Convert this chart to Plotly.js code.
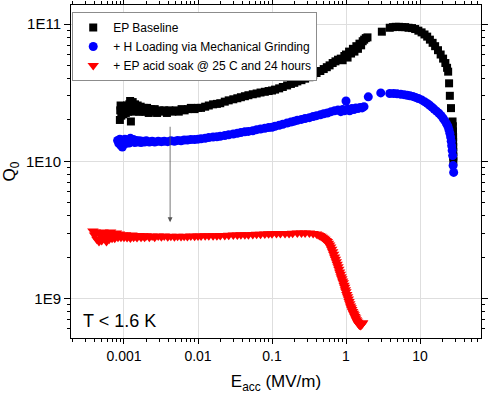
<!DOCTYPE html>
<html>
<head>
<meta charset="utf-8">
<script src="https://cdn.plot.ly/plotly-3.0.1.min.js"></script>
<style>html,body{margin:0;padding:0;background:#fff;}#chart{width:490px;height:395px;}</style>
</head>
<body>
<div id="chart"></div>
<script>
// ---- Data ----
const seriesNames = ["EP Baseline", "+ H Loading via Mechanical Grinding", "+ EP acid soak @ 25 C and 24 hours"];

const baselineE = [0.00088,0.00089,0.00090,0.00092,0.00095,0.00098,0.00102,0.00106,0.00110,0.00114,0.00118,0.00121,0.00124,0.00127,0.00131,0.00136,0.00141,0.00147,0.00153,0.0016,0.00168,0.00176,0.00185,0.00195,0.00205,0.00216,0.0023,0.00245,0.0026,0.0028,0.003,0.0032,0.0035,0.0038,0.0041,0.0045,0.005,0.0055,0.006,0.0066,0.0073,0.008,0.009,0.01,0.011,0.0125,0.014,0.016,0.018,0.02,0.023,0.026,0.03,0.034,0.038,0.043,0.048,0.055,0.062,0.07,0.08,0.09,0.1,0.11,0.125,0.14,0.16,0.18,0.2,0.22,0.25,0.28,0.32,0.36,0.4,0.45,0.5,0.55,0.6,0.66,0.72,0.78,0.85,0.9,0.95,1.0,1.05,1.1,1.17,1.24,1.3,1.38,1.45,1.52,1.6,1.68,1.76,1.85,1.95,3.05,3.9,4.3,4.7,5.2,5.7,6.3,7.0,7.8,8.6,9.5,10.5,11.5,12.5,13.6,14.8,16.0,17.5,19.0,20.5,22.0,23.2,24.0,24.7,25.3,26.2,27.5,27.8,27.9,28.0,28.0,28.1,28.1,28.2,28.2];
const baselineQ = [2.0e10,2.35e10,2.55e10,2.15e10,2.45e10,2.2e10,2.5e10,2.25e10,2.55e10,2.3e10,2.6e10,2.75e10,1.95e10,2.45e10,2.7e10,2.3e10,2.6e10,2.35e10,2.55e10,2.3e10,2.5e10,2.3e10,2.45e10,2.3e10,2.45e10,2.25e10,2.4e10,2.3e10,2.4e10,2.25e10,2.35e10,2.3e10,2.35e10,2.25e10,2.35e10,2.3e10,2.35e10,2.3e10,2.4e10,2.35e10,2.4e10,2.45e10,2.4e10,2.45e10,2.45e10,2.5e10,2.55e10,2.6e10,2.62e10,2.65e10,2.72e10,2.78e10,2.83e10,2.88e10,2.93e10,2.98e10,3.03e10,3.08e10,3.12e10,3.17e10,3.21e10,3.25e10,3.28e10,3.33e10,3.4e10,3.48e10,3.57e10,3.66e10,3.73e10,3.82e10,3.9e10,4.0e10,4.1e10,4.25e10,4.4e10,4.55e10,4.7e10,4.85e10,5.0e10,5.2e10,5.35e10,5.5e10,5.6e10,5.45e10,5.85e10,6.0e10,5.7e10,6.3e10,6.1e10,6.6e10,6.3e10,6.9e10,6.6e10,7.2e10,7.0e10,7.5e10,7.7e10,7.9e10,8.0e10,8.8e10,9.4e10,9.5e10,9.55e10,9.55e10,9.5e10,9.5e10,9.4e10,9.35e10,9.2e10,8.95e10,8.7e10,8.4e10,8.1e10,7.7e10,7.3e10,6.9e10,6.45e10,6.0e10,5.6e10,5.2e10,4.8e10,4.5e10,3.7e10,3.0e10,2.44e10,1.95e10,1.8e10,1.65e10,1.5e10,1.38e10,1.27e10,1.17e10,1.08e10,1.0e10];

const hLoadE = [0.00082,0.00085,0.00088,0.00091,0.00095,0.00099,0.00103,0.00107,0.00112,0.00117,0.00122,0.00128,0.00134,0.0014,0.00147,0.00155,0.00163,0.0017,0.0018,0.0019,0.002,0.0022,0.0024,0.0026,0.0029,0.0032,0.0035,0.0039,0.0043,0.0048,0.0053,0.0059,0.0065,0.0072,0.008,0.009,0.01,0.011,0.0125,0.014,0.016,0.018,0.02,0.023,0.026,0.03,0.034,0.038,0.043,0.048,0.055,0.062,0.07,0.08,0.09,0.1,0.11,0.125,0.14,0.16,0.18,0.2,0.22,0.25,0.28,0.32,0.36,0.4,0.45,0.5,0.56,0.63,0.7,0.78,0.85,0.9,0.95,1.0,1.05,1.12,1.2,1.28,1.36,1.45,1.55,1.65,1.75,2.0,2.95,3.9,4.4,4.9,5.5,6.1,6.7,7.3,8.0,8.7,9.5,10.5,11.5,12.5,13.5,14.5,15.5,16.7,18.0,19.3,20.5,21.7,22.8,23.8,24.6,25.3,25.9,26.4,26.8,27.2,27.6,28.0,28.5];
const hLoadQ = [1.42e10,1.35e10,1.45e10,1.3e10,1.27e10,1.38e10,1.45e10,1.35e10,1.42e10,1.36e10,1.47e10,1.4e10,1.44e10,1.37e10,1.42e10,1.38e10,1.41e10,1.37e10,1.4e10,1.38e10,1.41e10,1.38e10,1.4e10,1.38e10,1.4e10,1.39e10,1.4e10,1.39e10,1.41e10,1.4e10,1.42e10,1.41e10,1.43e10,1.43e10,1.44e10,1.44e10,1.45e10,1.46e10,1.47e10,1.49e10,1.5e10,1.51e10,1.52e10,1.54e10,1.56e10,1.58e10,1.6e10,1.62e10,1.64e10,1.65e10,1.67e10,1.7e10,1.72e10,1.74e10,1.76e10,1.77e10,1.8e10,1.83e10,1.86e10,1.9e10,1.93e10,1.96e10,1.99e10,2.02e10,2.05e10,2.08e10,2.12e10,2.15e10,2.18e10,2.22e10,2.25e10,2.3e10,2.33e10,2.36e10,2.3e10,2.38e10,2.33e10,2.75e10,2.4e10,2.33e10,2.42e10,2.38e10,2.45e10,2.42e10,2.47e10,2.45e10,2.5e10,2.95e10,3.15e10,3.12e10,3.12e10,3.1e10,3.08e10,3.06e10,3.03e10,3.0e10,2.97e10,2.92e10,2.87e10,2.8e10,2.72e10,2.64e10,2.56e10,2.48e10,2.4e10,2.32e10,2.24e10,2.15e10,2.06e10,1.97e10,1.88e10,1.8e10,1.7e10,1.6e10,1.5e10,1.4e10,1.3e10,1.2e10,1.1e10,0.93e10,0.83e10];

const soakE = [0.00038,0.0004,0.00041,0.00043,0.00045,0.00046,0.00048,0.0005,0.00052,0.00054,0.00056,0.00058,0.0006,0.00063,0.00066,0.00069,0.00072,0.00075,0.00079,0.00083,0.00087,0.00091,0.00095,0.001,0.00105,0.0011,0.00116,0.00122,0.00128,0.00135,0.00142,0.0015,0.0016,0.0017,0.0018,0.0019,0.002,0.0022,0.0024,0.0026,0.0029,0.0032,0.0035,0.0039,0.0043,0.0048,0.0053,0.0059,0.0065,0.0072,0.008,0.009,0.01,0.011,0.0125,0.014,0.016,0.018,0.02,0.023,0.026,0.03,0.034,0.038,0.043,0.048,0.055,0.062,0.07,0.08,0.09,0.1,0.115,0.13,0.15,0.17,0.19,0.22,0.25,0.28,0.32,0.36,0.4,0.42,0.44,0.46,0.48,0.5,0.52,0.54,0.56,0.58,0.6,0.62,0.64,0.66,0.68,0.7,0.72,0.74,0.76,0.78,0.8,0.82,0.84,0.86,0.88,0.9,0.92,0.94,0.96,0.98,1.0,1.025,1.05,1.075,1.1,1.125,1.15,1.175,1.2,1.23,1.26,1.29,1.32,1.35,1.38,1.41,1.44,1.47,1.5,1.53,1.56,1.59,1.62,1.65,1.68];
const soakQ = [3.1e9,2.9e9,3.05e9,2.7e9,3.0e9,2.6e9,2.95e9,2.65e9,3.05e9,2.75e9,3.0e9,2.6e9,2.9e9,2.7e9,3.05e9,2.75e9,2.95e9,2.75e9,3.0e9,2.8e9,2.95e9,2.8e9,2.9e9,2.8e9,2.92e9,2.78e9,2.88e9,2.76e9,2.9e9,2.8e9,2.86e9,2.78e9,2.88e9,2.8e9,2.86e9,2.8e9,2.86e9,2.8e9,2.85e9,2.8e9,2.85e9,2.82e9,2.85e9,2.82e9,2.84e9,2.82e9,2.84e9,2.83e9,2.84e9,2.83e9,2.85e9,2.84e9,2.85e9,2.85e9,2.86e9,2.86e9,2.87e9,2.87e9,2.88e9,2.88e9,2.89e9,2.9e9,2.9e9,2.91e9,2.92e9,2.92e9,2.93e9,2.94e9,2.94e9,2.95e9,2.96e9,2.96e9,2.97e9,2.97e9,2.98e9,2.98e9,2.99e9,3.0e9,3.0e9,3.0e9,3.0e9,2.98e9,2.95e9,2.92e9,2.88e9,2.84e9,2.8e9,2.75e9,2.7e9,2.65e9,2.6e9,2.53e9,2.45e9,2.37e9,2.28e9,2.19e9,2.1e9,2.01e9,1.93e9,1.85e9,1.78e9,1.7e9,1.63e9,1.56e9,1.5e9,1.44e9,1.39e9,1.34e9,1.3e9,1.25e9,1.21e9,1.16e9,1.12e9,1.07e9,1.03e9,0.99e9,0.95e9,0.915e9,0.88e9,0.855e9,0.83e9,0.805e9,0.78e9,0.76e9,0.74e9,0.72e9,0.7e9,0.685e9,0.67e9,0.657e9,0.645e9,0.64e9,0.635e9,0.638e9,0.645e9,0.655e9,0.665e9];

const xTickVals = [0.001, 0.01, 0.1, 1, 10];
const xTickText = ["0.001", "0.01", "0.1", "1", "10"];
const yTickVals = [1e9, 1e10, 1e11];
const yTickText = ["1E9", "1E10", "1E11"];

// minor tick positions (2..9 x decade)
function minorVals(lo, hi) {
  const out = [];
  for (let e = lo; e <= hi; e++) for (let m = 2; m <= 9; m++) out.push(m * Math.pow(10, e));
  return out;
}

const FONT = "Arial, 'Liberation Sans', sans-serif";

const traces = [
  {x: baselineE, y: baselineQ, name: seriesNames[0], type: "scatter", mode: "markers",
   marker: {symbol: "square", size: 8, color: "#000000"}},
  {x: hLoadE, y: hLoadQ, name: seriesNames[1], type: "scatter", mode: "markers",
   marker: {symbol: "circle", size: 9, color: "#0000ff"}},
  {x: soakE, y: soakQ, name: seriesNames[2], type: "scatter", mode: "markers",
   marker: {symbol: "triangle-down", size: 10, color: "#ff0000"}}
];

const layout = {
  width: 490, height: 395,
  margin: {l: 71, r: 9, t: 5, b: 57},
  paper_bgcolor: "#ffffff", plot_bgcolor: "#ffffff",
  font: {family: FONT, size: 14, color: "#000"},
  showlegend: true,
  legend: {x: 0.003, y: 0.979, xanchor: "left", yanchor: "top",
           bgcolor: "#ffffff", bordercolor: "#8c8c8c", borderwidth: 1,
           font: {family: FONT, size: 12, color: "#000"}, tracegroupgap: 0},
  xaxis: {
    type: "log", range: [-3.716, 1.824],
    tickmode: "array", tickvals: xTickVals, ticktext: xTickText,
    ticks: "outside", ticklen: 5, tickwidth: 1, tickcolor: "#000",
    showline: true, linecolor: "#000", linewidth: 1, mirror: "ticks",
    showgrid: true, gridcolor: "#dedede", gridwidth: 1, zeroline: false,
    minor: {tickmode: "array", tickvals: minorVals(-4, 1), ticks: "outside", ticklen: 3, tickcolor: "#000", showgrid: false},
    tickfont: {family: FONT, size: 14},
    title: {text: "E<sub>acc</sub> (MV/m)", font: {family: FONT, size: 17}, standoff: 12}
  },
  yaxis: {
    type: "log", range: [8.712, 11.139],
    tickmode: "array", tickvals: yTickVals, ticktext: yTickText,
    ticks: "outside", ticklen: 6, tickwidth: 1, tickcolor: "#000",
    showline: true, linecolor: "#000", linewidth: 1, mirror: "ticks",
    showgrid: true, gridcolor: "#dedede", gridwidth: 1, zeroline: false,
    minor: {tickmode: "array", tickvals: minorVals(8, 11), ticks: "outside", ticklen: 3, tickcolor: "#000", showgrid: false},
    tickfont: {family: FONT, size: 15},
    title: {text: "Q<sub>0</sub>", font: {family: FONT, size: 17}, standoff: 6}
  },
  annotations: [
    {xref: "paper", yref: "paper", x: 0.024, y: 0.051, xanchor: "left", yanchor: "middle",
     text: "T &lt; 1.6 K", showarrow: false, font: {family: FONT, size: 18, color: "#000"}},
    {xref: "x", yref: "y", axref: "x", ayref: "y",
     x: Math.log10(0.0042), y: Math.log10(3.6e9), ax: Math.log10(0.0042), ay: Math.log10(1.83e10),
     text: "", showarrow: true, arrowhead: 2, arrowsize: 1.2, arrowwidth: 0.8, arrowcolor: "#555555"}
  ]
};

Plotly.newPlot("chart", traces, layout, {displayModeBar: false, staticPlot: true});
</script>
</body>
</html>
